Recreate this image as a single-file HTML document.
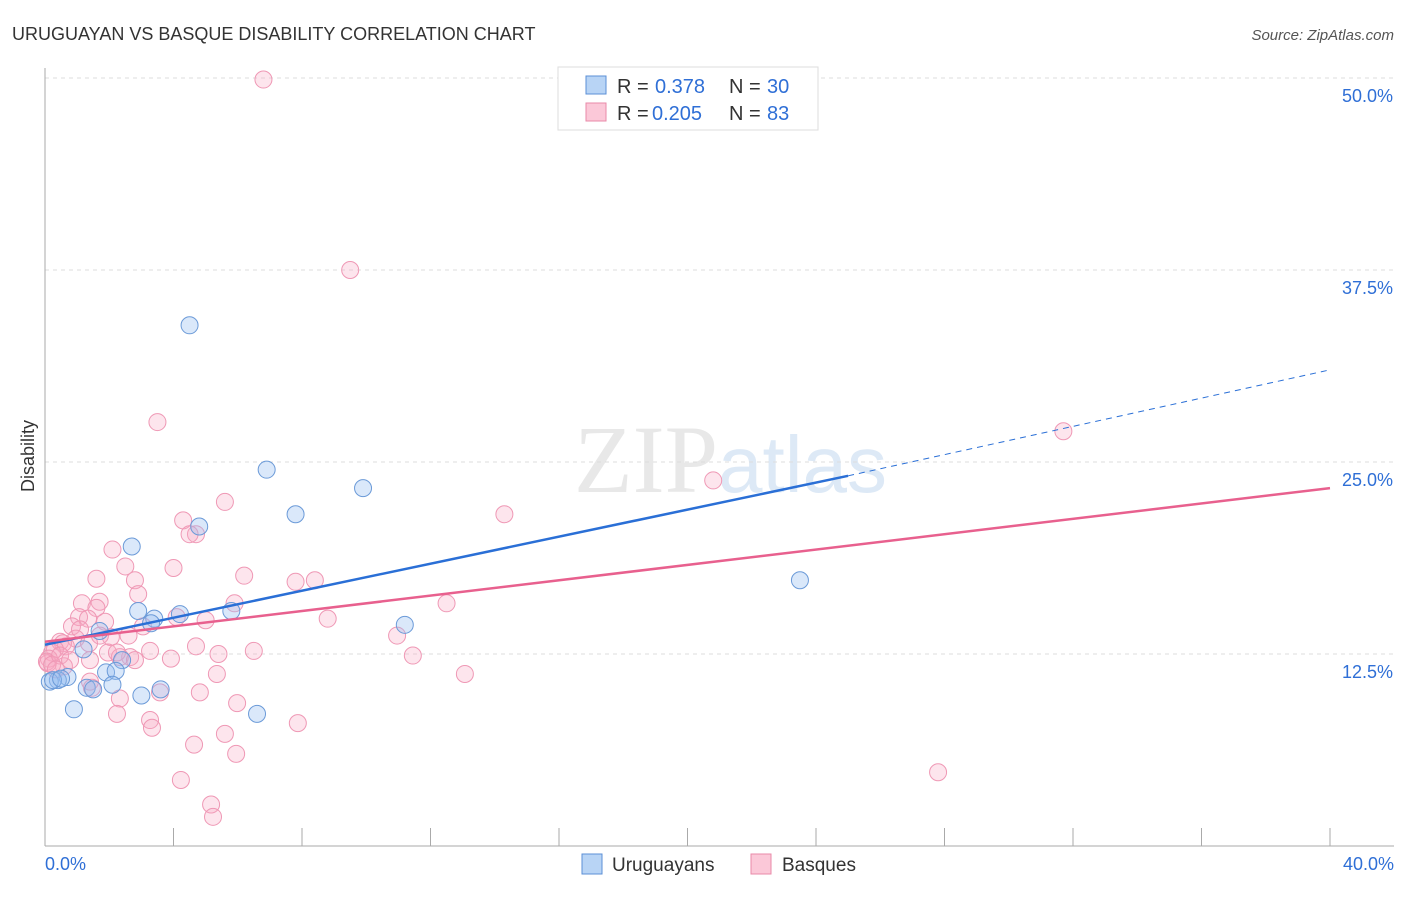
<!DOCTYPE html>
<html><head><meta charset="utf-8"><style>
body{margin:0;background:#fff;font-family:"Liberation Sans",sans-serif;}
</style></head><body>
<svg width="1406" height="892" xmlns="http://www.w3.org/2000/svg" id="chart">
<text x="12" y="40" font-size="18" fill="#333">URUGUAYAN VS BASQUE DISABILITY CORRELATION CHART</text>
<text x="1394" y="40" font-size="15" fill="#555" font-style="italic" text-anchor="end">Source: ZipAtlas.com</text>
<text x="718" y="492" font-size="96" fill="#e8e8e8" font-family="Liberation Serif,serif" text-anchor="end">ZIP</text>
<text x="718" y="492" font-size="80" fill="#dde9f6">atlas</text>
<g id="grid"></g>
<g id="axes"></g>
<g id="marks"></g>
<text x="34" y="456" font-size="18" fill="#333" transform="rotate(-90 34 456)" text-anchor="middle">Disability</text>
<g>
<rect x="558" y="67" width="260" height="63" fill="#fff" stroke="#ddd"/>
<rect x="586" y="76" width="20" height="18" fill="#b8d4f5" stroke="#5b8fd6"/>
<rect x="586" y="103" width="20" height="18" fill="#fbc8d8" stroke="#e88aa8"/>
<text x="617" y="93" font-size="20" fill="#333">R = </text><text x="655" y="93" font-size="20" fill="#2f6fd6">0.378</text>
<text x="729" y="93" font-size="20" fill="#333">N = </text><text x="767" y="93" font-size="20" fill="#2f6fd6">30</text>
<text x="617" y="120" font-size="20" fill="#333">R = </text><text x="652" y="120" font-size="20" fill="#2f6fd6">0.205</text>
<text x="729" y="120" font-size="20" fill="#333">N = </text><text x="767" y="120" font-size="20" fill="#2f6fd6">83</text>
</g>
<g>
<rect x="582" y="854" width="20" height="20" fill="#b8d4f5" stroke="#5b8fd6"/>
<text x="612" y="871" font-size="19" fill="#333">Uruguayans</text>
<rect x="751" y="854" width="20" height="20" fill="#fbc8d8" stroke="#e88aa8"/>
<text x="782" y="871" font-size="19" fill="#333">Basques</text>
</g>
</svg>
<script>
const yTicks=[12.5,25,37.5,50];
const yTickLabels=["12.5%","25.0%","37.5%","50.0%"];
const xTickLabels=["0.0%","40.0%"];
const blueX=[4.5,6.9,7.8,9.9,4.8,2.7,2.9,3.4,4.2,5.8,3.3,1.7,1.2,11.2,23.5,2.4,1.9,2.2,0.7,0.4,0.15,0.25,0.5,1.3,2.1,1.5,3.0,3.6,0.9,6.6];
const blueY=[33.9,24.5,21.6,23.3,20.8,19.5,15.3,14.8,15.1,15.3,14.5,14.0,12.8,14.4,17.3,12.1,11.3,11.4,11.0,10.8,10.7,10.8,10.9,10.3,10.5,10.2,9.8,10.2,8.9,8.6];
const pinkX=[6.8,9.5,3.5,31.7,20.8,14.3,5.6,4.3,4.7,4.5,2.1,2.5,4.0,1.6,2.8,6.2,7.8,8.4,2.9,1.15,1.7,1.6,5.9,4.1,5.0,8.8,12.5,1.06,1.34,1.87,0.84,3.05,2.05,10.96,2.6,0.96,0.47,0.56,1.37,0.65,0.31,0.22,0.12,0.09,0.06,2.65,4.7,5.4,6.5,11.45,3.27,1.96,1.4,2.33,3.92,0.59,0.22,5.35,13.07,1.46,1.4,3.58,4.82,5.98,2.33,2.24,3.27,3.33,7.87,5.6,4.64,5.95,4.23,27.8,5.17,5.23,0.47,0.78,1.09,1.71,2.8,2.24,0.34];
const pinkY=[49.9,37.5,27.6,27.0,23.8,21.6,22.4,21.2,20.3,20.3,19.3,18.2,18.1,17.4,17.3,17.6,17.2,17.3,16.4,15.8,15.9,15.5,15.8,14.9,14.7,14.8,15.8,14.9,14.8,14.6,14.3,14.3,13.6,13.7,13.7,13.5,13.3,13.2,13.2,13.0,12.8,12.6,12.2,11.9,12.0,12.3,13.0,12.5,12.7,12.4,12.7,12.6,12.1,12.3,12.2,11.7,11.8,11.2,11.2,10.3,10.7,10.0,10.0,9.3,9.6,8.6,8.2,7.7,8.0,7.3,6.6,6.0,4.3,4.8,2.7,1.9,12.4,12.1,14.1,13.7,12.1,12.6,11.5];
const blueTrend=[[0,13.1],[25,24.1],[40,31.0]];
const pinkTrend=[[0,13.3],[40,23.3]];
const X=v=>45+v/40*1285, Y=v=>846-v/12.5*192;
const NS="http://www.w3.org/2000/svg";
function mk(t,a,p){const e=document.createElementNS(NS,t);for(const k in a)e.setAttribute(k,a[k]);document.getElementById(p).appendChild(e);return e;}
yTicks.forEach((t,i)=>{
 const l=mk('line',{x1:45,x2:1394,y1:Y(t),y2:Y(t),stroke:'#ddd','stroke-dasharray':'4,4'},'grid');
 
 
 const tx=mk('text',{x:1393,y:Y(t)+24,'font-size':18,fill:'#2f6fd6','text-anchor':'end'},'axes');
 tx.textContent=yTickLabels[i];
 
 
});
const ax=mk('line',{x1:45,x2:45,y1:68,y2:846,stroke:'#aaa'},'axes');


const bx=mk('line',{x1:45,x2:1394,y1:846,y2:846,stroke:'#aaa'},'axes');


for(let i=1;i<=10;i++){const t=mk('line',{x1:X(i*4),x2:X(i*4),y1:828,y2:846,stroke:'#aaa'},'axes');
 
 }
[[0,'start',45],[40,'end',1394]].forEach((d,i)=>{const t=mk('text',{x:d[2],y:870,'font-size':18,fill:'#2f6fd6','text-anchor':d[1]},'axes');t.textContent=xTickLabels[i];
 
 });
pinkX.forEach((x,i)=>{const c=mk('circle',{cx:X(x),cy:Y(pinkY[i]),r:8.5,fill:'rgba(248,170,195,0.3)',stroke:'#ef98b5','stroke-width':1},'marks');
 
 });
blueX.forEach((x,i)=>{const c=mk('circle',{cx:X(x),cy:Y(blueY[i]),r:8.5,fill:'rgba(150,190,240,0.35)',stroke:'#6b9ad8','stroke-width':1},'marks');
 
 });
const b1=mk('line',{x1:X(blueTrend[0][0]),y1:Y(blueTrend[0][1]),x2:X(blueTrend[1][0]),y2:Y(blueTrend[1][1]),stroke:'#2a6fd6','stroke-width':2.5},'marks');


const b2=mk('line',{x1:X(blueTrend[1][0]),y1:Y(blueTrend[1][1]),x2:X(blueTrend[2][0]),y2:Y(blueTrend[2][1]),stroke:'#2a6fd6','stroke-width':1,'stroke-dasharray':'6,5'},'marks');


const p1=mk('line',{x1:X(pinkTrend[0][0]),y1:Y(pinkTrend[0][1]),x2:X(pinkTrend[1][0]),y2:Y(pinkTrend[1][1]),stroke:'#e8608e','stroke-width':2.5},'marks');


</script>
</body></html>
